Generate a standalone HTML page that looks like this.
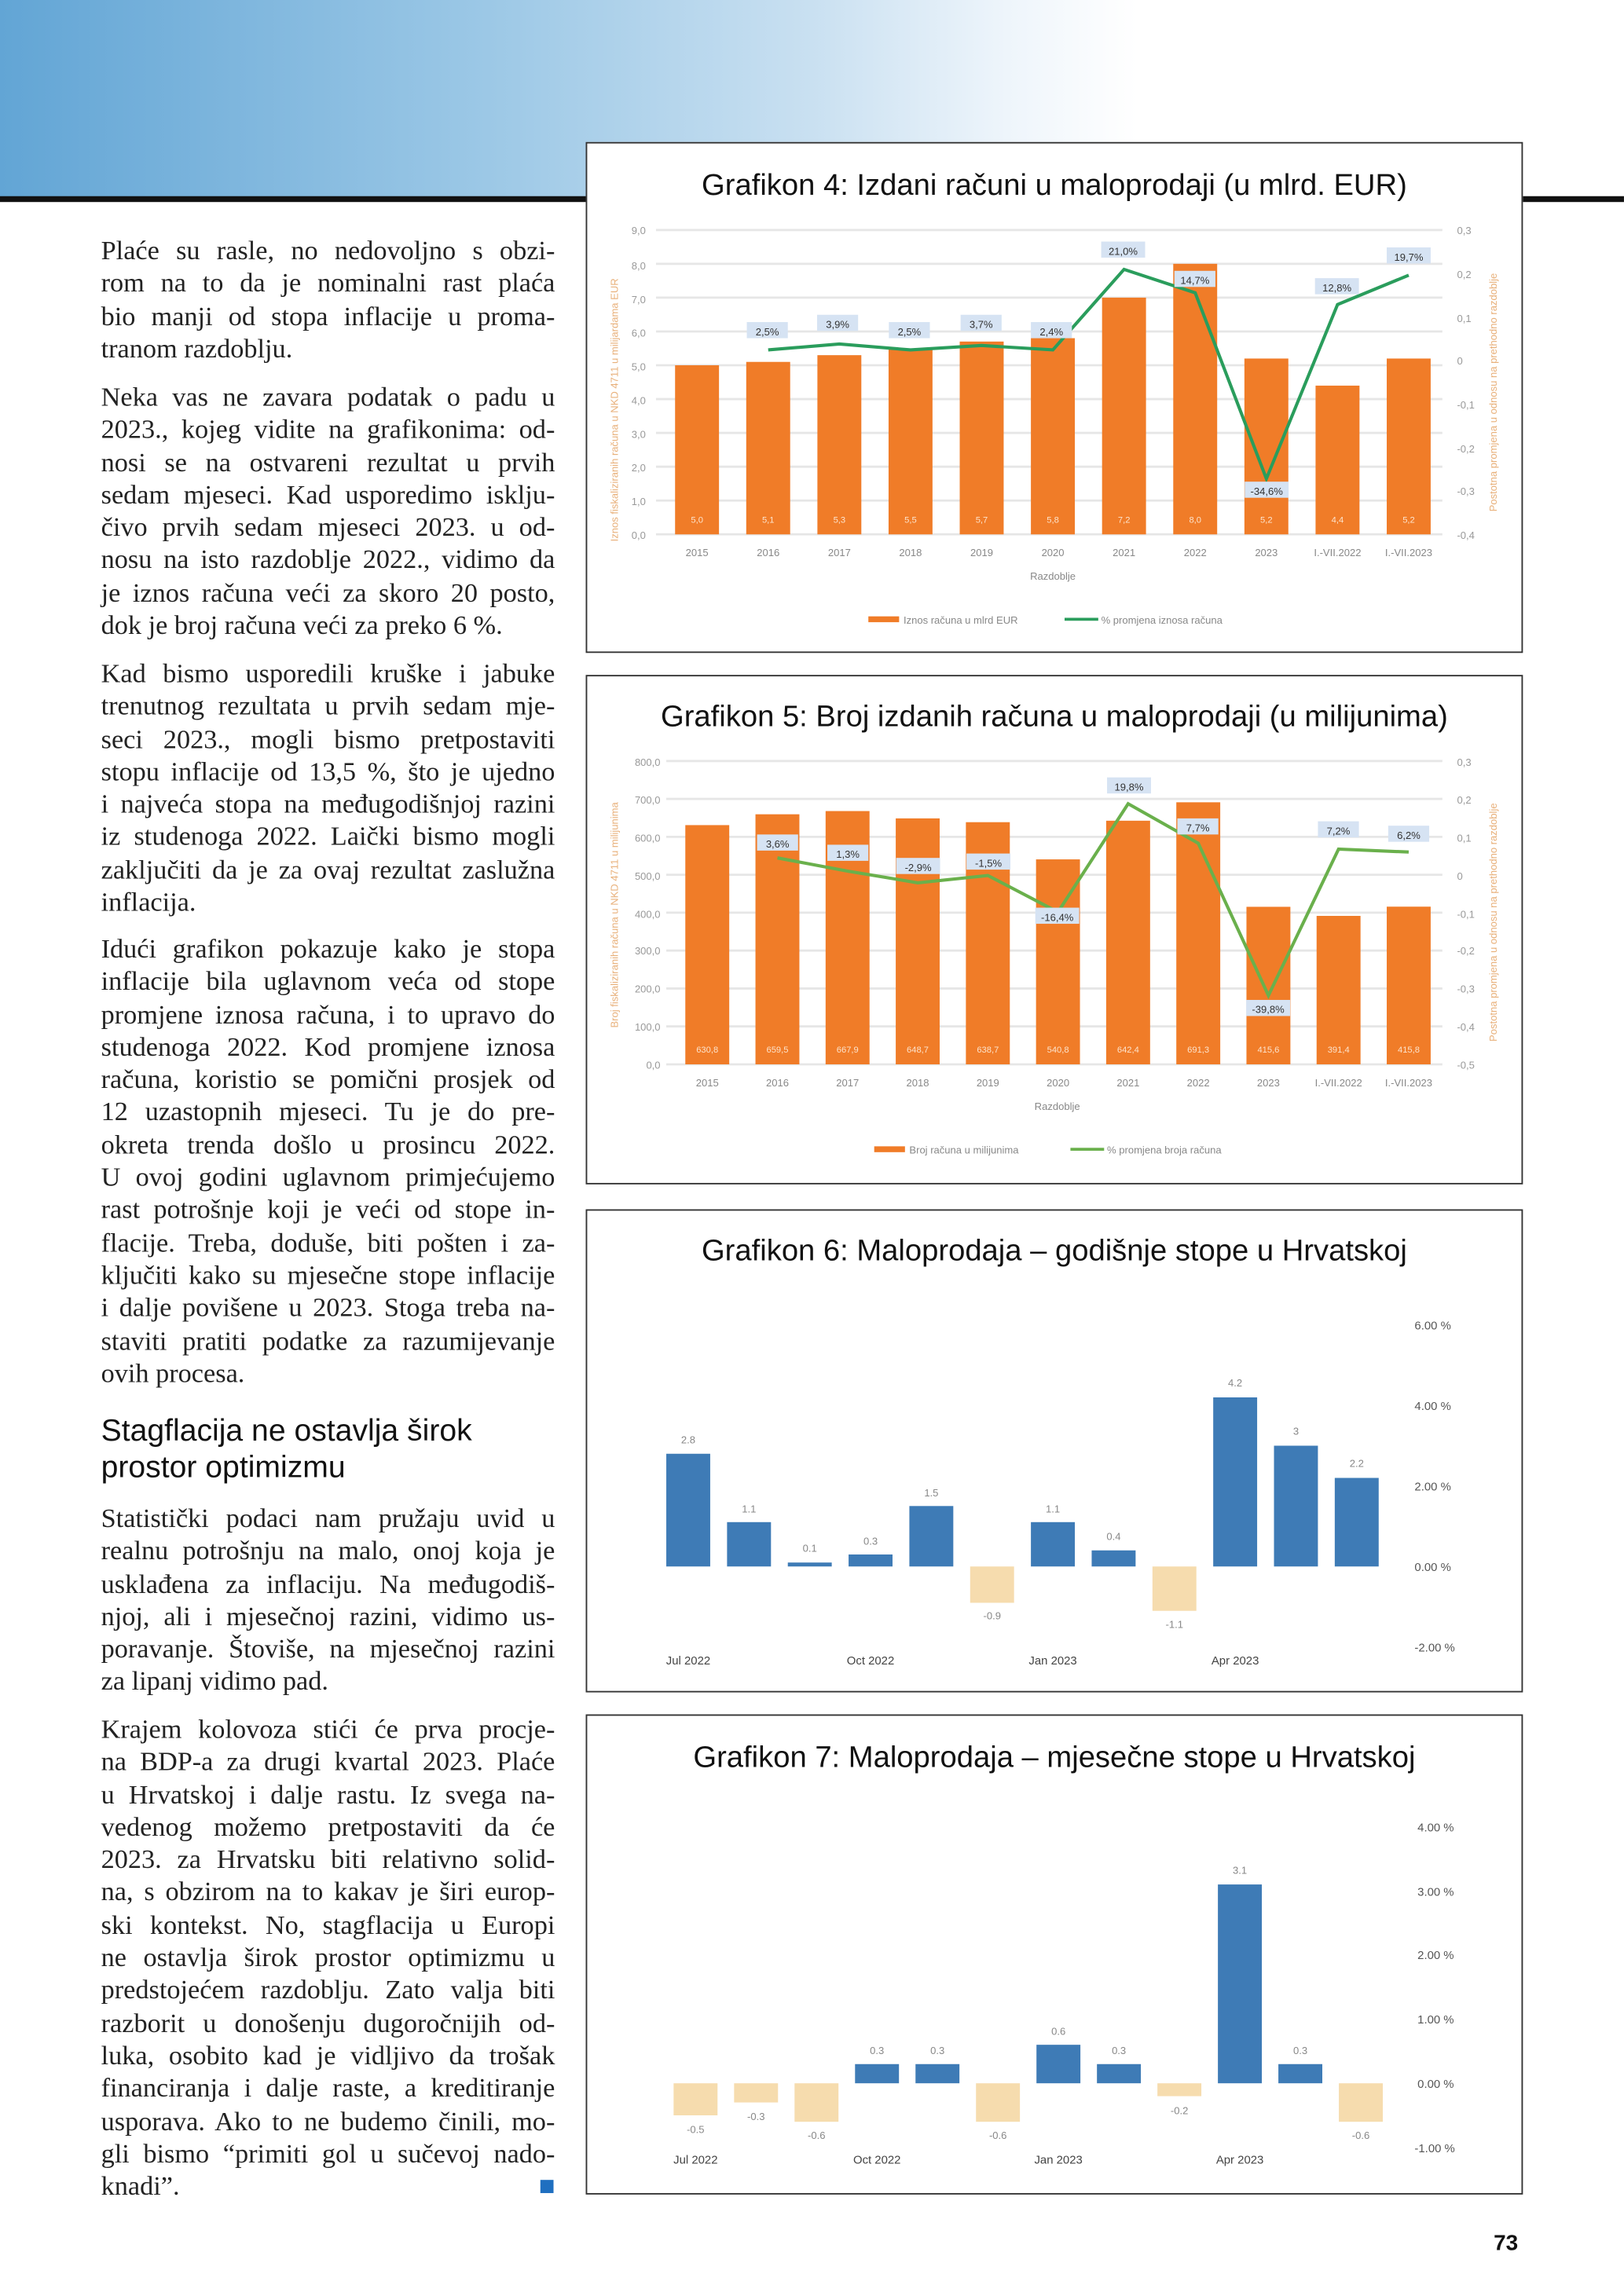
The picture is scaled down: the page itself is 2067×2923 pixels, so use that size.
<!DOCTYPE html>
<html><head><meta charset="utf-8">
<style>
html,body{margin:0;padding:0;background:#fff;}
body{width:2067px;height:2923px;overflow:hidden;position:relative;}
#pg{position:absolute;left:0;top:0;width:1109px;height:1568px;transform:scale(1.8638);transform-origin:0 0;}
.hdr{position:absolute;left:0;top:0;width:1109px;height:135px;background:linear-gradient(90deg,#62a5d5 0%,#9cc8e6 30%,#c9e0f1 50%,#eef5fb 62%,#fff 70%);}
.bl{position:absolute;top:134px;height:4px;background:#111;}
.box{position:absolute;left:400px;width:638px;border:1.5px solid #333;background:#fff;}
.t{position:absolute;left:69px;width:310px;font-family:"Liberation Serif",serif;font-size:18.4px;color:#222;line-height:22.3px;}
.t div{text-align:justify;text-align-last:justify;white-space:nowrap;height:22.3px;}
.t div.e{text-align-last:left;}
.h{position:absolute;left:69px;font-family:"Liberation Sans",sans-serif;font-size:21px;color:#111;line-height:25px;}
svg text{font-family:"Liberation Sans",sans-serif;}
</style></head><body><div id="pg">
<div class="hdr"></div>
<div class="bl" style="left:0;width:402px"></div>
<div class="bl" style="left:1038px;width:71px"></div>

<div class="t" style="top:160px">
<div>Plaće su rasle, no nedovoljno s obzi-</div><div>rom na to da je nominalni rast plaća</div><div>bio manji od stopa inflacije u proma-</div><div class="e">tranom razdoblju.</div></div>
<div class="t" style="top:260px">
<div>Neka vas ne zavara podatak o padu u</div><div>2023., kojeg vidite na grafikonima: od-</div><div>nosi se na ostvareni rezultat u prvih</div><div>sedam mjeseci. Kad usporedimo isklju-</div><div>čivo prvih sedam mjeseci 2023. u od-</div><div>nosu na isto razdoblje 2022., vidimo da</div><div>je iznos računa veći za skoro 20 posto,</div><div class="e">dok je broj računa veći za preko 6 %.</div></div>
<div class="t" style="top:449px">
<div>Kad bismo usporedili kruške i jabuke</div><div>trenutnog rezultata u prvih sedam mje-</div><div>seci 2023., mogli bismo pretpostaviti</div><div>stopu inflacije od 13,5 %, što je ujedno</div><div>i najveća stopa na međugodišnjoj razini</div><div>iz studenoga 2022. Laički bismo mogli</div><div>zaključiti da je za ovaj rezultat zaslužna</div><div class="e">inflacija.</div></div>
<div class="t" style="top:637px">
<div>Idući grafikon pokazuje kako je stopa</div><div>inflacije bila uglavnom veća od stope</div><div>promjene iznosa računa, i to upravo do</div><div>studenoga 2022. Kod promjene iznosa</div><div>računa, koristio se pomični prosjek od</div><div>12 uzastopnih mjeseci. Tu je do pre-</div><div>okreta trenda došlo u prosincu 2022.</div><div>U ovoj godini uglavnom primjećujemo</div><div>rast potrošnje koji je veći od stope in-</div><div>flacije. Treba, doduše, biti pošten i za-</div><div>ključiti kako su mjesečne stope inflacije</div><div>i dalje povišene u 2023. Stoga treba na-</div><div>staviti pratiti podatke za razumijevanje</div><div class="e">ovih procesa.</div></div>
<div class="h" style="top:965px">Stagflacija ne ostavlja širok<br>prostor optimizmu</div>
<div class="t" style="top:1026px">
<div>Statistički podaci nam pružaju uvid u</div><div>realnu potrošnju na malo, onoj koja je</div><div>usklađena za inflaciju. Na međugodiš-</div><div>njoj, ali i mjesečnoj razini, vidimo us-</div><div>poravanje. Štoviše, na mjesečnoj razini</div><div class="e">za lipanj vidimo pad.</div></div>
<div class="t" style="top:1170px">
<div>Krajem kolovoza stići će prva procje-</div><div>na BDP-a za drugi kvartal 2023. Plaće</div><div>u Hrvatskoj i dalje rastu. Iz svega na-</div><div>vedenog možemo pretpostaviti da će</div><div>2023. za Hrvatsku biti relativno solid-</div><div>na, s obzirom na to kakav je širi europ-</div><div>ski kontekst. No, stagflacija u Europi</div><div>ne ostavlja širok prostor optimizmu u</div><div>predstojećem razdoblju. Zato valja biti</div><div>razborit u donošenju dugoročnijih od-</div><div>luka, osobito kad je vidljivo da trošak</div><div>financiranja i dalje raste, a kreditiranje</div><div>usporava. Ako to ne budemo činili, mo-</div><div>gli bismo “primiti gol u sučevoj nado-</div><div class="e">knadi”.</div></div>
<div style="position:absolute;left:369px;top:1489px;width:9px;height:9px;background:#1f6fc0"></div>

<div style="position:absolute;left:1020px;top:1524px;font-family:'Liberation Sans',sans-serif;font-weight:bold;font-size:15px;color:#111">73</div>

<div class="box" style="top:97px;height:347px"></div>
<div class="box" style="top:461px;height:346px"></div>
<div class="box" style="top:826px;height:328px"></div>
<div class="box" style="top:1171px;height:326px"></div>

<svg width="1109" height="1568" style="position:absolute;left:0;top:0" xmlns="http://www.w3.org/2000/svg">
<!-- Chart 4 -->
<text x="720" y="133" font-size="20.5" text-anchor="middle" fill="#111">Grafikon 4: Izdani računi u maloprodaji (u mlrd. EUR)</text>
<g stroke="#e6e6e6" stroke-width="1.5">
<line x1="448" x2="985" y1="365" y2="365"/><line x1="448" x2="985" y1="341.9" y2="341.9"/><line x1="448" x2="985" y1="318.8" y2="318.8"/><line x1="448" x2="985" y1="295.7" y2="295.7"/><line x1="448" x2="985" y1="272.6" y2="272.6"/><line x1="448" x2="985" y1="249.5" y2="249.5"/><line x1="448" x2="985" y1="226.4" y2="226.4"/><line x1="448" x2="985" y1="203.3" y2="203.3"/><line x1="448" x2="985" y1="180.2" y2="180.2"/><line x1="448" x2="985" y1="157.1" y2="157.1"/></g>
<g font-size="7" fill="#999" text-anchor="end">
<text x="441" y="368">0,0</text><text x="441" y="345">1,0</text><text x="441" y="322">2,0</text><text x="441" y="299">3,0</text><text x="441" y="276">4,0</text><text x="441" y="253">5,0</text><text x="441" y="230">6,0</text><text x="441" y="207">7,0</text><text x="441" y="184">8,0</text><text x="441" y="160">9,0</text></g>
<g font-size="7" fill="#999"><text x="995" y="160">0,3</text><text x="995" y="190">0,2</text><text x="995" y="220">0,1</text><text x="995" y="249">0</text><text x="995" y="279">-0,1</text><text x="995" y="309">-0,2</text><text x="995" y="338">-0,3</text><text x="995" y="368">-0,4</text></g>
<text transform="translate(422,280) rotate(-90)" font-size="7" fill="#e8b07a" text-anchor="middle">Iznos fiskaliziranih računa u NKD 4711 u milijardama EUR</text>
<text transform="translate(1022,268) rotate(-90)" font-size="7" fill="#e8b07a" text-anchor="middle">Postotna promjena u odnosu na prethodno razdoblje</text>
<g fill="#f07c28">
<rect x="461" y="249.5" width="30" height="115.5"/><rect x="509.6" y="247.2" width="30" height="117.8"/><rect x="558.2" y="242.6" width="30" height="122.4"/><rect x="606.8" y="238" width="30" height="127"/><rect x="655.4" y="233.3" width="30" height="131.7"/><rect x="704" y="231" width="30" height="134"/><rect x="752.6" y="203.3" width="30" height="161.7"/><rect x="801.2" y="180.2" width="30" height="184.8"/><rect x="849.8" y="244.9" width="30" height="120.1"/><rect x="898.4" y="263.4" width="30" height="101.6"/><rect x="947" y="244.9" width="30" height="120.1"/></g>
<g font-size="6" fill="#fde3cc" text-anchor="middle"><text x="476" y="357">5,0</text><text x="524.6" y="357">5,1</text><text x="573.2" y="357">5,3</text><text x="621.8" y="357">5,5</text><text x="670.4" y="357">5,7</text><text x="719" y="357">5,8</text><text x="767.6" y="357">7,2</text><text x="816.2" y="357">8,0</text><text x="864.8" y="357">5,2</text><text x="913.4" y="357">4,4</text><text x="962" y="357">5,2</text></g>
<polyline fill="none" stroke="#2a9d5c" stroke-width="2.2" points="524.6,239 573.2,235 621.8,239 670.4,236 719,239 767.6,184 816.2,200 864.8,327 913.4,208 962,188"/>
<g fill="#d6e3f3"><rect x="510" y="220" width="28" height="11"/><rect x="558" y="215" width="28" height="11"/><rect x="607" y="220" width="28" height="11"/><rect x="656" y="215" width="28" height="11"/><rect x="704" y="220" width="28" height="11"/><rect x="752" y="165" width="30" height="11"/><rect x="802" y="185" width="28" height="11"/><rect x="850" y="329" width="30" height="11"/><rect x="898" y="190" width="30" height="11"/><rect x="947" y="169" width="30" height="11"/></g>
<g font-size="7" fill="#333" text-anchor="middle"><text x="524" y="229">2,5%</text><text x="572" y="224">3,9%</text><text x="621" y="229">2,5%</text><text x="670" y="224">3,7%</text><text x="718" y="229">2,4%</text><text x="767" y="174">21,0%</text><text x="816" y="194">14,7%</text><text x="865" y="338">-34,6%</text><text x="913" y="199">12,8%</text><text x="962" y="178">19,7%</text></g>
<g font-size="7" fill="#888" text-anchor="middle"><text x="476" y="380">2015</text><text x="524.6" y="380">2016</text><text x="573.2" y="380">2017</text><text x="621.8" y="380">2018</text><text x="670.4" y="380">2019</text><text x="719" y="380">2020</text><text x="767.6" y="380">2021</text><text x="816.2" y="380">2022</text><text x="864.8" y="380">2023</text><text x="913.4" y="380">I.-VII.2022</text><text x="962" y="380">I.-VII.2023</text><text x="719" y="396">Razdoblje</text></g>
<rect x="593" y="421" width="21" height="4" fill="#f07c28"/><text x="617" y="426" font-size="7" fill="#888">Iznos računa u mlrd EUR</text>
<line x1="727" x2="750" y1="423" y2="423" stroke="#2a9d5c" stroke-width="2"/><text x="752" y="426" font-size="7" fill="#888">% promjena iznosa računa</text>

<!-- Chart 5 -->
<text x="720" y="496" font-size="20.5" text-anchor="middle" fill="#111">Grafikon 5: Broj izdanih računa u maloprodaji (u milijunima)</text>
<g stroke="#e6e6e6" stroke-width="1.5">
<line x1="455" x2="985" y1="727" y2="727"/><line x1="455" x2="985" y1="701.1" y2="701.1"/><line x1="455" x2="985" y1="675.2" y2="675.2"/><line x1="455" x2="985" y1="649.3" y2="649.3"/><line x1="455" x2="985" y1="623.4" y2="623.4"/><line x1="455" x2="985" y1="597.5" y2="597.5"/><line x1="455" x2="985" y1="571.6" y2="571.6"/><line x1="455" x2="985" y1="545.7" y2="545.7"/><line x1="455" x2="985" y1="519.8" y2="519.8"/></g>
<g font-size="7" fill="#999" text-anchor="end"><text x="451" y="730">0,0</text><text x="451" y="704">100,0</text><text x="451" y="678">200,0</text><text x="451" y="652">300,0</text><text x="451" y="627">400,0</text><text x="451" y="601">500,0</text><text x="451" y="575">600,0</text><text x="451" y="549">700,0</text><text x="451" y="523">800,0</text></g>
<g font-size="7" fill="#999"><text x="995" y="523">0,3</text><text x="995" y="549">0,2</text><text x="995" y="575">0,1</text><text x="995" y="601">0</text><text x="995" y="627">-0,1</text><text x="995" y="652">-0,2</text><text x="995" y="678">-0,3</text><text x="995" y="704">-0,4</text><text x="995" y="730">-0,5</text></g>
<text transform="translate(422,625) rotate(-90)" font-size="7" fill="#e8b07a" text-anchor="middle">Broj fiskaliziranih računa u NKD 4711 u milijunima</text>
<text transform="translate(1022,630) rotate(-90)" font-size="7" fill="#e8b07a" text-anchor="middle">Postotna promjena u odnosu na prethodno razdoblje</text>
<g fill="#f07c28"><rect x="468" y="563.6" width="30" height="163.4"/><rect x="515.9" y="556.2" width="30" height="170.8"/><rect x="563.8" y="554" width="30" height="173"/><rect x="611.7" y="559" width="30" height="168"/><rect x="659.6" y="561.6" width="30" height="165.4"/><rect x="707.5" y="587" width="30" height="140"/><rect x="755.4" y="560.6" width="30" height="166.4"/><rect x="803.3" y="548" width="30" height="179"/><rect x="851.2" y="619.4" width="30" height="107.6"/><rect x="899.1" y="625.6" width="30" height="101.4"/><rect x="947" y="619.3" width="30" height="107.7"/></g>
<g font-size="6" fill="#fde3cc" text-anchor="middle"><text x="483" y="719">630,8</text><text x="530.9" y="719">659,5</text><text x="578.8" y="719">667,9</text><text x="626.7" y="719">648,7</text><text x="674.6" y="719">638,7</text><text x="722.5" y="719">540,8</text><text x="770.4" y="719">642,4</text><text x="818.3" y="719">691,3</text><text x="866.2" y="719">415,6</text><text x="914.1" y="719">391,4</text><text x="962" y="719">415,8</text></g>
<polyline fill="none" stroke="#6ab04c" stroke-width="2.2" points="530.9,586 578.8,595 626.7,603 674.6,598 722.5,623 770.4,549 818.3,576 866.2,680 914.1,580 962,582"/>
<g fill="#d6e3f3"><rect x="517" y="570" width="28" height="11"/><rect x="565" y="577" width="28" height="11"/><rect x="612" y="586" width="30" height="11"/><rect x="660" y="583" width="30" height="11"/><rect x="707" y="620" width="30" height="11"/><rect x="756" y="531" width="30" height="11"/><rect x="804" y="559" width="28" height="11"/><rect x="851" y="683" width="30" height="11"/><rect x="900" y="561" width="28" height="11"/><rect x="948" y="564" width="28" height="11"/></g>
<g font-size="7" fill="#333" text-anchor="middle"><text x="531" y="579">3,6%</text><text x="579" y="586">1,3%</text><text x="627" y="595">-2,9%</text><text x="675" y="592">-1,5%</text><text x="722" y="629">-16,4%</text><text x="771" y="540">19,8%</text><text x="818" y="568">7,7%</text><text x="866" y="692">-39,8%</text><text x="914" y="570">7,2%</text><text x="962" y="573">6,2%</text></g>
<g font-size="7" fill="#888" text-anchor="middle"><text x="483" y="742">2015</text><text x="530.9" y="742">2016</text><text x="578.8" y="742">2017</text><text x="626.7" y="742">2018</text><text x="674.6" y="742">2019</text><text x="722.5" y="742">2020</text><text x="770.4" y="742">2021</text><text x="818.3" y="742">2022</text><text x="866.2" y="742">2023</text><text x="914.1" y="742">I.-VII.2022</text><text x="962" y="742">I.-VII.2023</text><text x="722" y="758">Razdoblje</text></g>
<rect x="597" y="783" width="21" height="4" fill="#f07c28"/><text x="621" y="788" font-size="7" fill="#888">Broj računa u milijunima</text>
<line x1="731" x2="754" y1="785" y2="785" stroke="#6ab04c" stroke-width="2"/><text x="756" y="788" font-size="7" fill="#888">% promjena broja računa</text>

<!-- Chart 6 -->
<text x="720" y="861" font-size="20.5" text-anchor="middle" fill="#111">Grafikon 6: Maloprodaja – godišnje stope u Hrvatskoj</text>
<g font-size="8" fill="#555"><text x="966" y="908">6.00 %</text><text x="966" y="963">4.00 %</text><text x="966" y="1018">2.00 %</text><text x="966" y="1073">0.00 %</text><text x="966" y="1128">-2.00 %</text></g>
<g fill="#3e7bb6"><rect x="455" y="993" width="30" height="77"/><rect x="496.5" y="1039.7" width="30" height="30.3"/><rect x="538" y="1067.3" width="30" height="2.7"/><rect x="579.5" y="1061.8" width="30" height="8.2"/><rect x="621" y="1028.7" width="30" height="41.3"/><rect x="704" y="1039.7" width="30" height="30.3"/><rect x="745.5" y="1059" width="30" height="11"/><rect x="828.5" y="954.5" width="30" height="115.5"/><rect x="870" y="987.5" width="30" height="82.5"/><rect x="911.5" y="1009.5" width="30" height="60.5"/></g>
<g fill="#f6dcae"><rect x="662.5" y="1070" width="30" height="24.8"/><rect x="787" y="1070" width="30" height="30.3"/></g>
<g font-size="7" fill="#888" text-anchor="middle"><text x="470" y="986">2.8</text><text x="511.5" y="1033">1.1</text><text x="553" y="1060">0.1</text><text x="594.5" y="1055">0.3</text><text x="636" y="1022">1.5</text><text x="677.5" y="1106">-0.9</text><text x="719" y="1033">1.1</text><text x="760.5" y="1052">0.4</text><text x="802" y="1112">-1.1</text><text x="843.5" y="947">4.2</text><text x="885" y="980">3</text><text x="926.5" y="1002">2.2</text></g>
<g font-size="8" fill="#444" text-anchor="middle"><text x="470" y="1137">Jul 2022</text><text x="594.5" y="1137">Oct 2022</text><text x="719" y="1137">Jan 2023</text><text x="843.5" y="1137">Apr 2023</text></g>

<!-- Chart 7 -->
<text x="720" y="1207" font-size="20.5" text-anchor="middle" fill="#111">Grafikon 7: Maloprodaja – mjesečne stope u Hrvatskoj</text>
<g font-size="8" fill="#555"><text x="968" y="1251">4.00 %</text><text x="968" y="1295">3.00 %</text><text x="968" y="1338">2.00 %</text><text x="968" y="1382">1.00 %</text><text x="968" y="1426">0.00 %</text><text x="966" y="1470">-1.00 %</text></g>
<g fill="#3e7bb6"><rect x="583.9" y="1409.9" width="30" height="13.1"/><rect x="625.2" y="1409.9" width="30" height="13.1"/><rect x="707.8" y="1396.7" width="30" height="26.3"/><rect x="749.1" y="1409.9" width="30" height="13.1"/><rect x="831.7" y="1287.2" width="30" height="135.8"/><rect x="873" y="1409.9" width="30" height="13.1"/></g>
<g fill="#f6dcae"><rect x="460" y="1423" width="30" height="21.9"/><rect x="501.3" y="1423" width="30" height="13.1"/><rect x="542.6" y="1423" width="30" height="26.3"/><rect x="666.5" y="1423" width="30" height="26.3"/><rect x="790.4" y="1423" width="30" height="8.8"/><rect x="914.3" y="1423" width="30" height="26.3"/></g>
<g font-size="7" fill="#888" text-anchor="middle"><text x="475" y="1457">-0.5</text><text x="516.3" y="1448">-0.3</text><text x="557.6" y="1461">-0.6</text><text x="598.9" y="1403">0.3</text><text x="640.2" y="1403">0.3</text><text x="681.5" y="1461">-0.6</text><text x="722.8" y="1390">0.6</text><text x="764.1" y="1403">0.3</text><text x="805.4" y="1444">-0.2</text><text x="846.7" y="1280">3.1</text><text x="888" y="1403">0.3</text><text x="929.3" y="1461">-0.6</text></g>
<g font-size="8" fill="#444" text-anchor="middle"><text x="475" y="1478">Jul 2022</text><text x="598.9" y="1478">Oct 2022</text><text x="722.8" y="1478">Jan 2023</text><text x="846.7" y="1478">Apr 2023</text></g>
</svg>
</div></body></html>
